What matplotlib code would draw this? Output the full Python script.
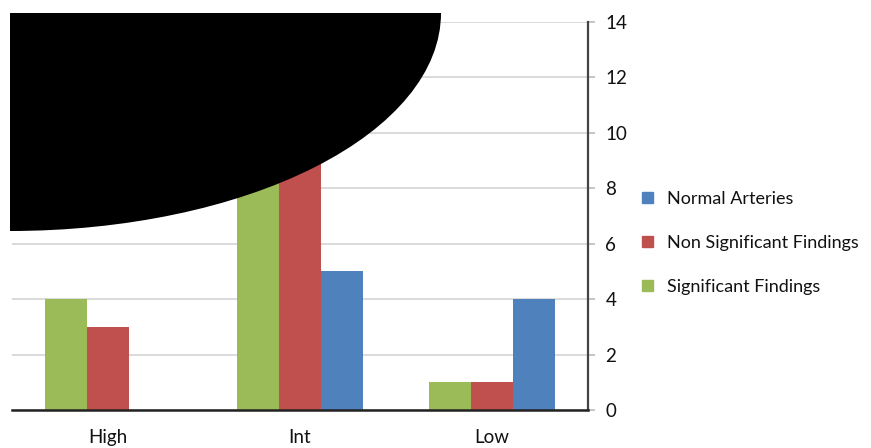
import numpy as np
import matplotlib
matplotlib.use('Agg')
import matplotlib.pyplot as plt
from matplotlib.patches import Patch, Ellipse, Rectangle

plt.rcParams['font.family'] = ['Lato', 'DejaVu Sans']

categories = ['High', 'Int', 'Low']
significant = [4, 9, 1]
non_significant = [3, 10, 1]
normal = [0, 5, 4]
y_ticks = [0, 2, 4, 6, 8, 10, 12, 14]

green = '#9BBB59'
red = '#C0504D'
blue = '#4F81BD'

fig = plt.figure(figsize=(8.71, 4.48), dpi=100)
ax = fig.add_axes([12/871, 38/448, 576/871, 388/448])

x = np.arange(len(categories))
w = 0.219
ax.bar(x - w, significant, w, color=green, zorder=2)
ax.bar(x, non_significant, w, color=red, zorder=2)
ax.bar(x + w, normal, w, color=blue, zorder=2)

ax.set_xlim(-0.5, 2.5)
ax.set_ylim(0, 14)
ax.set_yticks(y_ticks)
ax.yaxis.tick_right()
ax.yaxis.set_label_position('right')
ax.grid(axis='y', color='#D4D4D4', lw=1.2, zorder=0)
ax.tick_params(axis='y', length=5, width=1.2, color='#BBBBBB', pad=7.5,
               labelsize=13.5, labelcolor='#111111')
ax.set_xticks(x)
ax.set_xticklabels(categories)
ax.tick_params(axis='x', length=0, pad=14, labelsize=13.5, labelcolor='#111111')
for s in ['left', 'top']:
    ax.spines[s].set_visible(False)
ax.spines['right'].set_color('#444444')
ax.spines['right'].set_linewidth(1.6)
ax.spines['bottom'].set_color('#222222')
ax.spines['bottom'].set_linewidth(1.8)

handles = [Patch(color=blue, label='Normal Arteries'),
           Patch(color=red, label='Non Significant Findings'),
           Patch(color=green, label='Significant Findings')]
leg = fig.legend(handles=handles, loc='center left', bbox_to_anchor=(626/871, 1 - 243/448),
                 frameon=False, fontsize=13, handlelength=0.6, handleheight=0.6,
                 handletextpad=0.75, labelspacing=1.55)
for t in leg.get_texts():
    t.set_color('#111111')

# black blot over the upper-left of the chart
over = fig.add_axes([0, 0, 1, 1])
over.set_xlim(0, 871)
over.set_ylim(448, 0)
over.axis('off')
over.patch.set_alpha(0)
clip = Rectangle((10, 13), 861, 435, transform=over.transData)
blot = Ellipse((10, 13), 862, 436, color='black', lw=0)
over.add_patch(blot)
blot.set_clip_path(clip)

fig.savefig('out.png', dpi=100)
